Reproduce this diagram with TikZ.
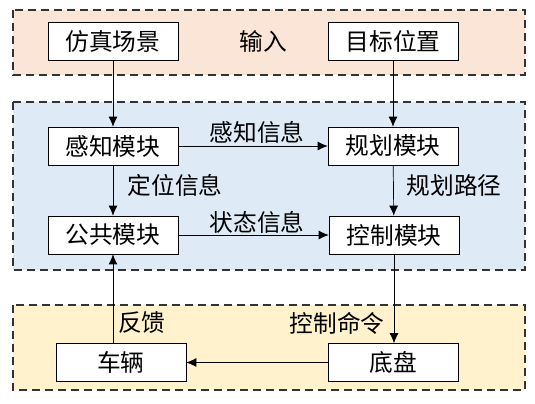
\documentclass[tikz,border=0pt]{standalone}
\usepackage{fontspec}
\newfontfamily\cjk{Noto Sans CJK SC}
\usepackage{tikz}
\usetikzlibrary{positioning,arrows.meta}

\definecolor{inband}{HTML}{FBE5D6}
\definecolor{modband}{HTML}{DEEBF7}
\definecolor{carband}{HTML}{FFF2CC}

\begin{document}
\begin{tikzpicture}[
  x=0.02cm, y=-0.02cm,
  >={Latex[length=2mm,width=1.8mm]},
  band/.style={
    draw=black!80,
    dash pattern=on 0.16cm off 0.1cm,
    line width=0.6pt
  },
  box/.style={
    draw,
    fill=white,
    minimum width=2.6cm,
    minimum height=0.76cm,
    inner sep=0pt,
    font=\cjk\fontsize{13.5}{15}\selectfont
  },
  lbl/.style={font=\cjk\fontsize{13.5}{15}\selectfont, inner sep=1pt}
]
\useasboundingbox (0,0) rectangle (535,403);

% bands
\draw[band, fill=inband]  (13,10)  rectangle (525,75);
\draw[band, fill=modband] (13,102) rectangle (525,270);
\draw[band, fill=carband] (13,305) rectangle (525,390);

\node[box] (scene)  at (113,41.5)  {仿真场景};
\node[lbl] (input)  at (263,41)    {输入};
\node[box] (goal)   at (393,41.5)  {目标位置};
\node[box] (percep) at (113,146)   {感知模块};
\node[box] (plan)   at (393,146)   {规划模块};
\node[box] (common) at (113,235)   {公共模块};
\node[box] (ctrl)   at (394,235)   {控制模块};
\node[box] (veh)    at (121,362.5) {车辆};
\node[box] (chas)   at (393,362.5) {底盘};

\node[lbl] (percinfo) at (257,132) {感知信息};
\node[lbl] (locinfo)  at (175,185) {定位信息};
\node[lbl] (path)     at (454,185) {规划路径};
\node[lbl] (state)    at (257,222) {状态信息};
\node[lbl] (fb)       at (142,323) {反馈};
\node[lbl] (cmd)      at (337,323) {控制命令};

\draw[->] (scene) -- (percep);
\draw[->] (goal) -- (plan);
\draw[->] (percep) -- (plan);
\draw[->] (percep) -- (common);
\draw[->] (plan) -- (ctrl);
\draw[->] (common) -- (ctrl);
\draw[->] (ctrl.south) -- (chas.north -| ctrl.south);
\draw[->] (chas) -- (veh);
\draw[->] (common.south |- veh.north) -- (common.south);
\end{tikzpicture}
\end{document}
